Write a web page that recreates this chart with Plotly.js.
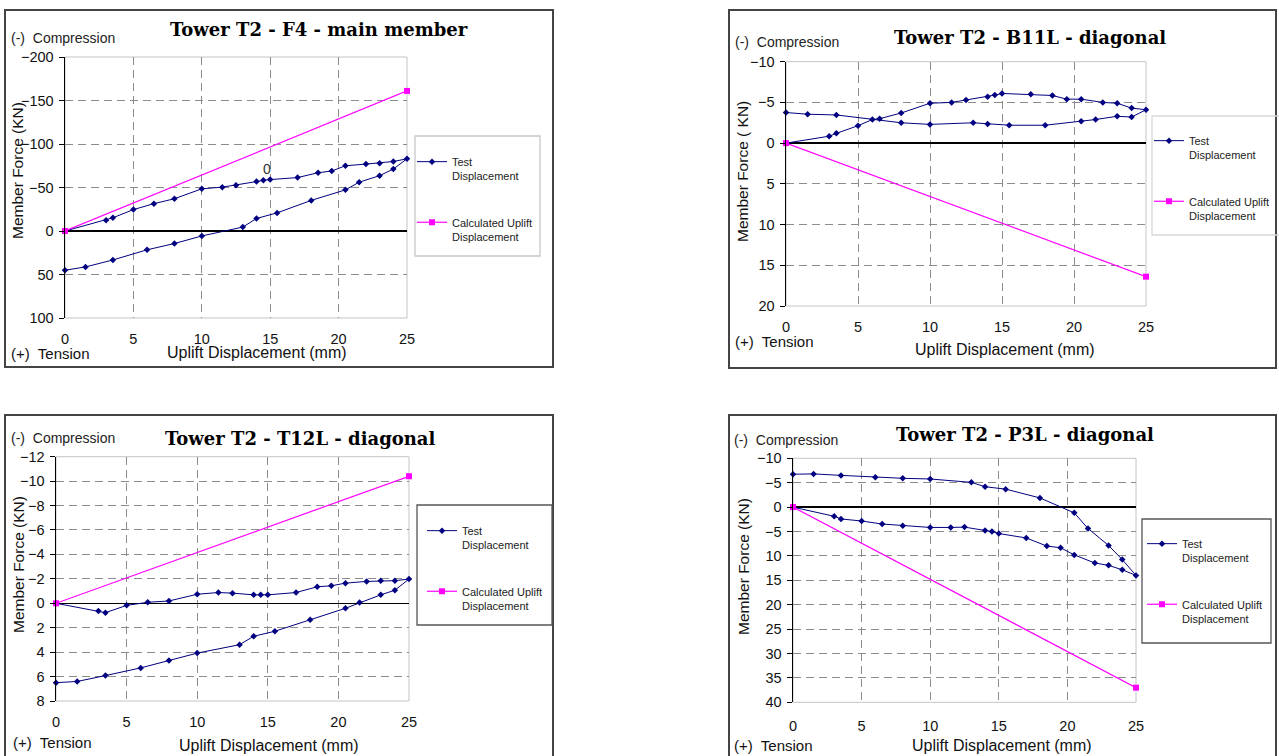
<!DOCTYPE html>
<html>
<head>
<meta charset="utf-8">
<script src="https://cdn.plot.ly/plotly-3.0.1.min.js"></script>
<style>html,body{margin:0;padding:0;background:#fff;}#chart{width:1279px;height:756px;}</style>
</head>
<body>
<div id="chart"></div>
<script>
// ---------- DATA ----------
const xTickVals = [0, 5, 10, 15, 20, 25];
const xTickText = ['0', '5', '10', '15', '20', '25'];

// Panel 1: Tower T2 - F4 - main member
const f4TestX = [0, 3, 3.5, 5, 6.5, 8, 10, 11.5, 12.5, 14, 14.5, 15, 17, 18.5, 19.5, 20.5, 22, 23, 24, 25,
                 24, 23, 21.5, 20.5, 18, 15.5, 14, 13, 10, 8, 6, 3.5, 1.5, 0];
const f4TestY = [0, -12.5, -15.2, -24.6, -31.4, -37.1, -48.5, -50.4, -52.7, -56.8, -58.3, -59.1, -61.4, -67.0, -68.9, -75.0, -76.9, -78.0, -79.9, -83.0,
                 -71.2, -63.6, -56.1, -47.3, -35.2, -20.8, -14.4, -4.5, 5.7, 14.4, 21.6, 33.3, 41.3, 45.1];
const f4CalcX = [0, 25];
const f4CalcY = [0, -161];
const f4YTickVals = [-200, -150, -100, -50, 0, 50, 100];
const f4YTickText = ['−200', '−150', '−100', '−50', '0', '50', '100'];

// Panel 2: Tower T2 - B11L - diagonal
const b11TestX = [0, 3, 3.5, 5, 6, 6.5, 8, 10, 11.5, 12.5, 14, 14.5, 15, 17, 18.5, 19.5, 20.5, 22, 23, 24, 25,
                  24, 23, 21.5, 20.5, 18, 15.5, 14, 13, 10, 8, 3.5, 1.5, 0];
const b11TestY = [0, -0.85, -1.2, -2.14, -2.9, -3.0, -3.7, -4.9, -5.0, -5.3, -5.7, -5.9, -6.1, -6.0, -5.85, -5.4, -5.4, -5.0, -4.9, -4.3, -4.1,
                  -3.2, -3.3, -2.9, -2.7, -2.2, -2.2, -2.35, -2.5, -2.3, -2.5, -3.46, -3.55, -3.76];
const b11CalcX = [0, 25];
const b11CalcY = [0, 16.4];
const b11YTickVals = [-10, -5, 0, 5, 10, 15, 20];
const b11YTickText = ['−10', '−5', '0', '5', '10', '15', '20'];

// Panel 3: Tower T2 - T12L - diagonal
const t12TestX = [0, 3, 3.5, 5, 6.5, 8, 10, 11.5, 12.5, 14, 14.5, 15, 17, 18.5, 19.5, 20.5, 22, 23, 24, 25,
                  24, 23, 21.5, 20.5, 18, 15.5, 14, 13, 10, 8, 6, 3.5, 1.5, 0];
const t12TestY = [0, 0.63, 0.77, 0.17, -0.08, -0.19, -0.74, -0.88, -0.83, -0.69, -0.69, -0.69, -0.88, -1.35, -1.43, -1.65, -1.79, -1.85, -1.85, -1.98,
                  -1.07, -0.69, -0.06, 0.41, 1.35, 2.29, 2.7, 3.39, 4.08, 4.68, 5.29, 5.92, 6.4, 6.5];
const t12CalcX = [0, 25];
const t12CalcY = [0, -10.4];
const t12YTickVals = [-12, -10, -8, -6, -4, -2, 0, 2, 4, 6, 8];
const t12YTickText = ['−12', '−10', '−8', '−6', '−4', '−2', '0', '2', '4', '6', '8'];

// Panel 4: Tower T2 - P3L - diagonal
const p3TestX = [0, 3, 3.5, 5, 6.5, 8, 10, 11.5, 12.5, 14, 14.5, 15, 17, 18.5, 19.5, 20.5, 22, 23, 24, 25,
                 24, 23, 21.5, 20.5, 18, 15.5, 14, 13, 10, 8, 6, 3.5, 1.5, 0];
const p3TestY = [0, 1.88, 2.43, 2.85, 3.47, 3.82, 4.17, 4.17, 4.1, 4.79, 5.0, 5.42, 6.32, 7.99, 8.33, 9.79, 11.46, 11.94, 12.85, 14.0,
                 10.76, 7.85, 4.38, 1.18, -1.88, -3.68, -4.17, -5.07, -5.76, -5.9, -6.1, -6.5, -6.8, -6.74];
const p3CalcX = [0, 25];
const p3CalcY = [0, 37];
const p3YTickVals = [-10, -5, 0, 5, 10, 15, 20, 25, 30, 35, 40];
const p3YTickText = ['−10', '−5', '0', '−5', '10', '15', '20', '25', '30', '35', '40'];

const titles = ['Tower T2 - F4 - main member', 'Tower T2 - B11L - diagonal', 'Tower T2 - T12L - diagonal', 'Tower T2 - P3L - diagonal'];
const yTitles = ['Member Force (KN)', 'Member Force ( KN)', 'Member Force (KN)', 'Member Force (KN)'];
const xTitle = 'Uplift Displacement (mm)';
const testName = 'Test<br>Displacement';
const calcName = 'Calculated Uplift<br>Displacement';

// ---------- LAYOUT HELPERS ----------
const W = 1279, H = 756;
const px = v => v / W;
const py = v => 1 - v / H;

// panel geometry (pixels)
const P = [
  {pl: 65,  pr: 407,  pt: 57,    pb: 318,   bx0: 5,   bx1: 553,  by0: 10,  by1: 367, lg: [415, 540, 136, 256], lgc: '#c8c8c8', lx: 412, ly: 148, ttl: [319, 30], cmp: [9, 38], ten: [9, 353], xt: [257, 352], yt: [18, 171], std: 11},
  {pl: 786, pr: 1146, pt: 61.7,  pb: 306,   bx0: 729, bx1: 1276, by0: 10,  by1: 368, lg: [1152, 1300, 116, 235], lgc: '#d8d8d8', lx: 1149, ly: 127, ttl: [1030, 38], cmp: [733, 42], ten: [733, 342], xt: [1005, 349], yt: [743, 172], std: 11},
  {pl: 56,  pr: 409,  pt: 456.7, pb: 701,   bx0: 5,   bx1: 553,  by0: 415, by1: 770, lg: [417, 552, 505, 625], lgc: '#555555', lx: 422, ly: 517, ttl: [300, 438], cmp: [9, 438], ten: [11, 742], xt: [269, 745], yt: [18, 565], std: 11},
  {pl: 793, pr: 1136, pt: 458.3, pb: 702.3, bx0: 729, bx1: 1276, by0: 415, by1: 770, lg: [1142, 1271, 519, 643], lgc: '#555555', lx: 1142, ly: 530, ttl: [1025, 435], cmp: [732, 440], ten: [732, 745], xt: [1002, 745], yt: [743, 567], std: 14}
];

const yRanges = [[100, -200], [20, -10], [8, -12], [40, -10]];
const yTicks = [[f4YTickVals, f4YTickText], [b11YTickVals, b11YTickText], [t12YTickVals, t12YTickText], [p3YTickVals, p3YTickText]];
const series = [
  [f4TestX, f4TestY, f4CalcX, f4CalcY],
  [b11TestX, b11TestY, b11CalcX, b11CalcY],
  [t12TestX, t12TestY, t12CalcX, t12CalcY],
  [p3TestX, p3TestY, p3CalcX, p3CalcY]
];

const navy = '#000080', magenta = '#ff00ff';
const fam = 'Liberation Sans, Arial, sans-serif';
const tickFont = {family: fam, size: 14.5, color: '#111'};
const textFont = {family: fam, size: 14, color: '#222'};

const traces = [];
const layout = {
  width: W, height: H,
  margin: {l: 0, r: 0, t: 0, b: 0, autoexpand: false},
  paper_bgcolor: '#fff', plot_bgcolor: '#fff',
  showlegend: true,
  shapes: [], annotations: []
};

P.forEach((p, i) => {
  const n = i + 1;
  const xa = n === 1 ? 'x' : 'x' + n;
  const ya = n === 1 ? 'y' : 'y' + n;
  const xk = n === 1 ? 'xaxis' : 'xaxis' + n;
  const yk = n === 1 ? 'yaxis' : 'yaxis' + n;
  const lk = n === 1 ? 'legend' : 'legend' + n;
  const s = series[i];

  traces.push({
    x: s[0], y: s[1], xaxis: xa, yaxis: ya, type: 'scatter', mode: 'lines+markers',
    name: testName, legend: lk, legendgroup: 'test' + n,
    line: {color: navy, width: 1},
    marker: {symbol: 'diamond', size: 5, color: navy},
    cliponaxis: false
  });
  traces.push({
    x: s[2], y: s[3], xaxis: xa, yaxis: ya, type: 'scatter', mode: 'lines+markers',
    name: calcName, legend: lk, legendgroup: 'calc' + n,
    line: {color: magenta, width: 1.2},
    marker: {symbol: 'square', size: 6, color: magenta},
    cliponaxis: false
  });

  layout[xk] = {
    domain: [px(p.pl), px(p.pr)], range: [0, 25], anchor: ya,
    tickmode: 'array', tickvals: xTickVals, ticktext: xTickText,
    showgrid: true, gridcolor: '#8c8c8c', gridwidth: 1, griddash: '8px,5px',
    zeroline: false, showline: false, ticks: '', ticklabelstandoff: p.std - 1,
    tickfont: tickFont, fixedrange: true
  };
  layout[yk] = {
    domain: [py(p.pb), py(p.pt)], range: yRanges[i], anchor: xa,
    tickmode: 'array', tickvals: yTicks[i][0], ticktext: yTicks[i][1],
    showgrid: true, gridcolor: '#8c8c8c', gridwidth: 1, griddash: '8px,5px',
    zeroline: true, zerolinecolor: '#000', zerolinewidth: 1.5,
    showline: true, linecolor: '#000', linewidth: 1.5,
    ticks: 'outside', ticklen: 5, tickcolor: '#000', tickwidth: 1,
    ticklabelstandoff: 2, tickfont: tickFont, fixedrange: true
  };
  layout[lk] = {
    x: px(p.lx), y: py(p.ly), xanchor: 'left', yanchor: 'top',
    bgcolor: 'rgba(0,0,0,0)', borderwidth: 0,
    font: {family: fam, size: 11, color: '#222'},
    traceorder: 'grouped', tracegroupgap: 29, valign: 'top', itemwidth: 30
  };

  // outer frame
  layout.shapes.push({type: 'rect', xref: 'paper', yref: 'paper', x0: px(p.bx0), x1: px(p.bx1), y0: py(p.by1), y1: py(p.by0),
    line: {color: '#444', width: 2}, layer: 'below'});
  // plot-area frame
  layout.shapes.push({type: 'rect', xref: xa + ' domain', yref: ya + ' domain', x0: 0, x1: 1, y0: 0, y1: 1,
    line: {color: '#c4c4c4', width: 1}, layer: 'below'});
  // legend frame
  layout.shapes.push({type: 'rect', xref: 'paper', yref: 'paper', x0: px(p.lg[0]), x1: px(p.lg[1]), y0: py(p.lg[3]), y1: py(p.lg[2]),
    line: {color: p.lgc, width: 1.3}, layer: 'below'});

  // texts
  layout.annotations.push({xref: 'paper', yref: 'paper', x: px(p.ttl[0]), y: py(p.ttl[1]), xanchor: 'center', yanchor: 'middle',
    text: '<b>' + titles[i] + '</b>', showarrow: false, font: {family: 'DejaVu Serif, serif', size: 18, color: '#000'}});
  layout.annotations.push({xref: 'paper', yref: 'paper', x: px(p.cmp[0]), y: py(p.cmp[1]), xanchor: 'left', yanchor: 'middle',
    text: '(-)  Compression', showarrow: false, font: textFont});
  layout.annotations.push({xref: 'paper', yref: 'paper', x: px(p.ten[0]), y: py(p.ten[1]), xanchor: 'left', yanchor: 'middle',
    text: '(+)  Tension', showarrow: false, font: {family: fam, size: 15, color: '#111'}});
  layout.annotations.push({xref: 'paper', yref: 'paper', x: px(p.xt[0]), y: py(p.xt[1]), xanchor: 'center', yanchor: 'middle',
    text: xTitle, showarrow: false, font: {family: fam, size: 16, color: '#111'}});
  layout.annotations.push({xref: 'paper', yref: 'paper', x: px(p.yt[0]), y: py(p.yt[1]), xanchor: 'center', yanchor: 'middle',
    text: yTitles[i], textangle: -90, showarrow: false, font: {family: fam, size: 15.5, color: '#111'}});
});

// data label in panel 1
layout.annotations.push({xref: 'x', yref: 'y', x: 14.8, y: -71, text: '0', showarrow: false,
  font: {family: fam, size: 14, color: '#333'}});

Plotly.newPlot('chart', traces, layout, {displayModeBar: false, staticPlot: true});
</script>
</body>
</html>
